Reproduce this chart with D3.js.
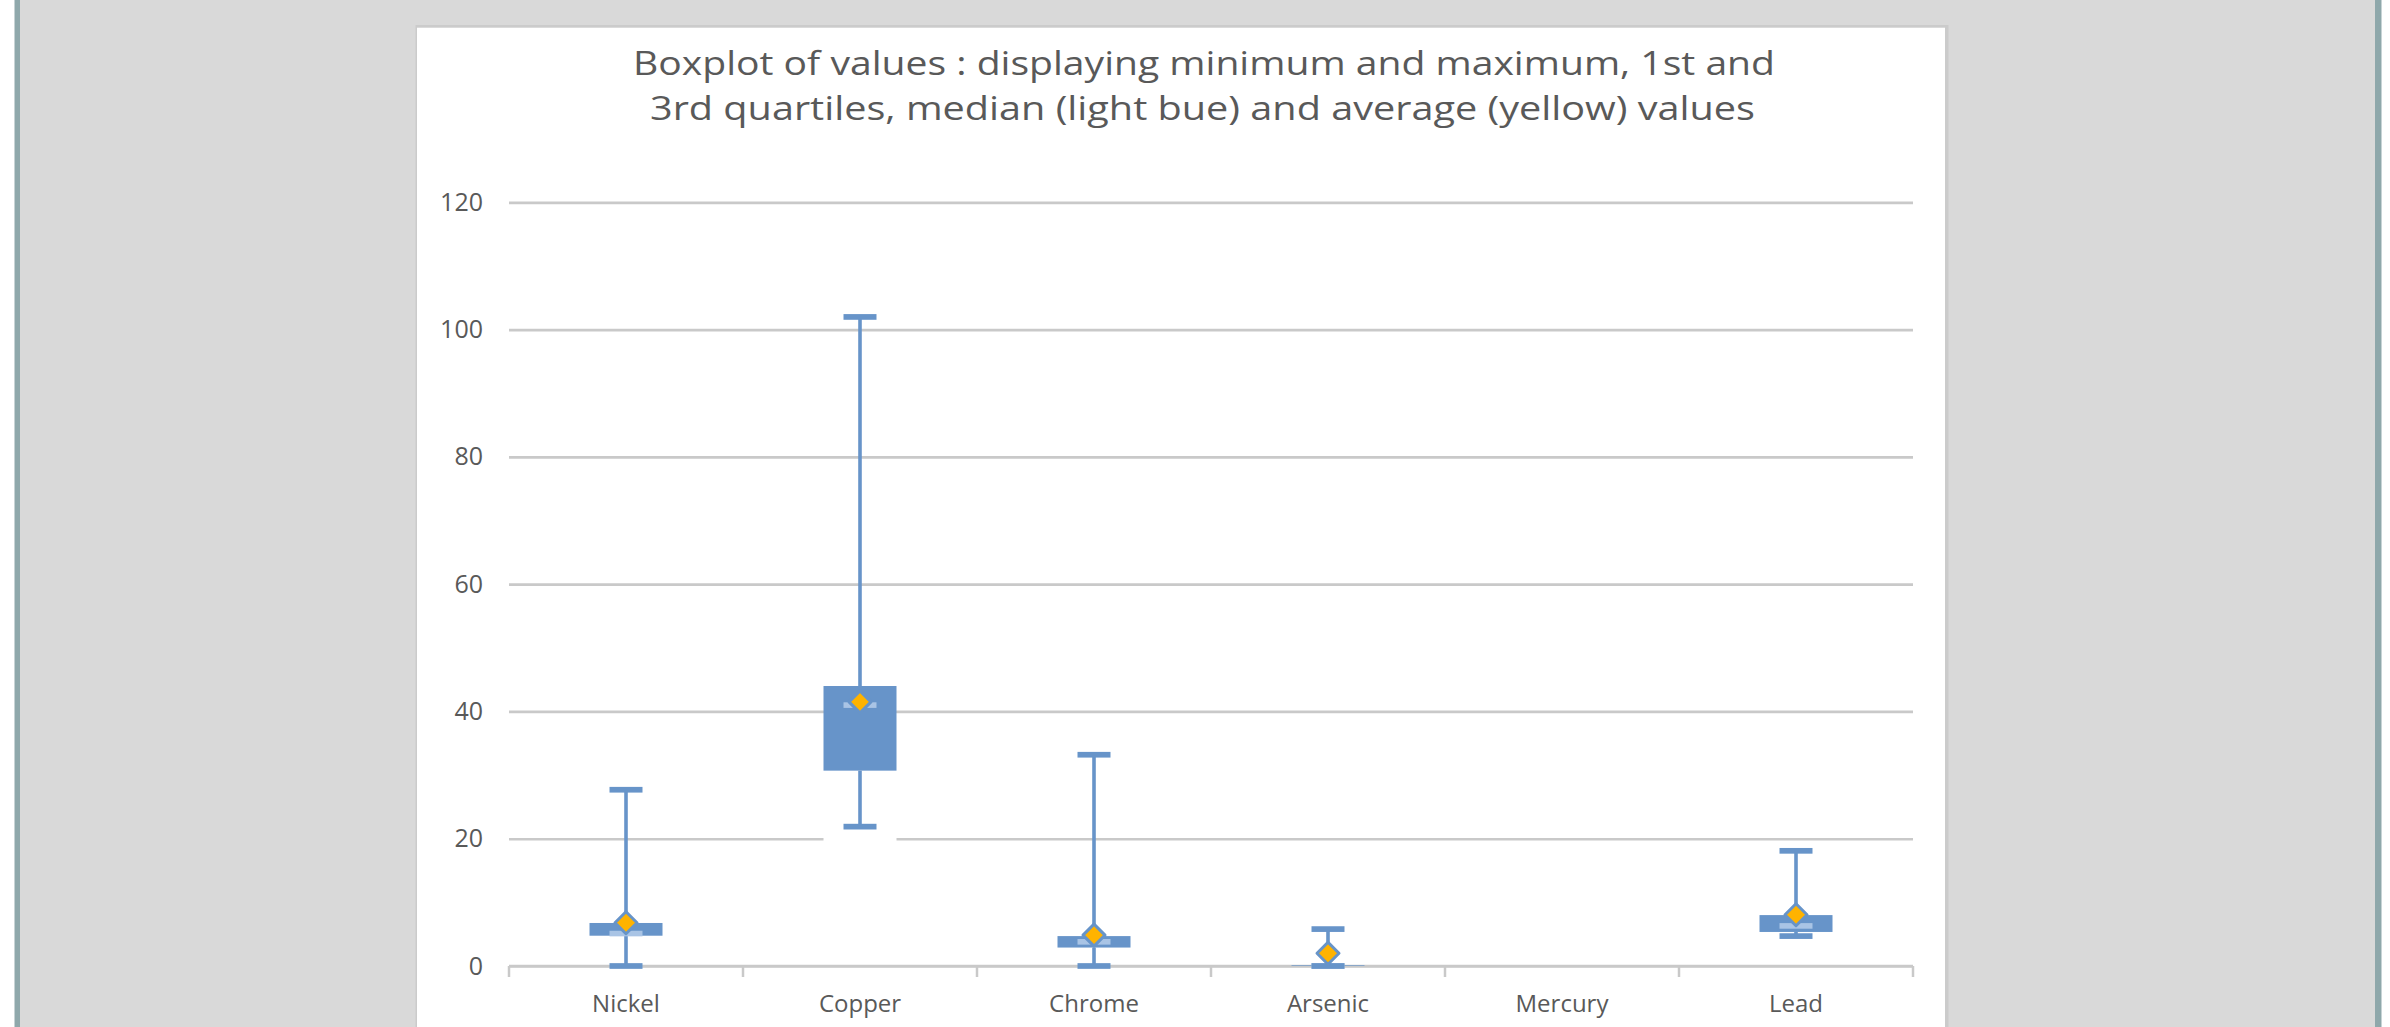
<!DOCTYPE html>
<html><head><meta charset="utf-8">
<script src="https://cdn.jsdelivr.net/npm/d3@7"></script>
<style>html,body{margin:0;padding:0;background:#fff;overflow:hidden}</style>
</head><body><svg id="c" width="2390" height="1027"></svg>
<script>
// ---- data ----
const categories   = ["Nickel", "Copper", "Chrome", "Arsenic", "Mercury", "Lead"];
const minValues    = [0,    21.9, 0,    0,   null, 4.7];
const q1Values     = [4.76, 30.7, 2.9,  0,   null, 5.35];
const medianValues = [5.1,  41.0, 3.8,  0,   null, 6.3];
const q3Values     = [6.76, 44.0, 4.7,  0.1, null, 8.0];
const maxValues    = [27.7, 102,  33.2, 5.8, null, 18.1];
const meanValues   = [6.8,  41.5, 4.85, 2.0, null, 8.05];
const yTicks       = [0, 20, 40, 60, 80, 100, 120];
const titleLines   = ["Boxplot of values : displaying minimum and maximum, 1st and",
                      "3rd quartiles, median (light bue) and average (yellow) values"];

const rows = categories.map((c, i) => ({
  cat: c, min: minValues[i], q1: q1Values[i], med: medianValues[i],
  q3: q3Values[i], max: maxValues[i], mean: meanValues[i]
})).filter(d => d.q1 !== null);

// ---- styles ----
const BLUE = "#6794c9", LIGHT = "#a9c4e5", ORANGE = "#ffb300", GRID = "#c9c9c9", TXT = "#595959";
const FONT = "'Open Sans', sans-serif";

const svg = d3.select("#c");

// page background
svg.append("rect").attr("x", 0).attr("y", 0).attr("width", 2390).attr("height", 1027).attr("fill", "#ffffff");
svg.append("rect").attr("x", 14.5).attr("y", 0).attr("width", 2367).attr("height", 1027).attr("fill", "#8fa8ab");
svg.append("rect").attr("x", 20).attr("y", 0).attr("width", 2355).attr("height", 1027).attr("fill", "#d9d9d9");
// chart panel
svg.append("rect").attr("x", 415.5).attr("y", 25).attr("width", 1533).attr("height", 1100).attr("fill", "#cbcbcb");
svg.append("rect").attr("x", 417).attr("y", 27.7).attr("width", 1528).attr("height", 1100).attr("fill", "#ffffff");

// title
const title = svg.append("g").attr("font-family", FONT).attr("font-size", 32).attr("fill", TXT);
const titleBox = [[633, 1775, 75], [650, 1755, 120]];
title.selectAll("text").data(titleLines).join("text")
  .attr("x", (d, i) => titleBox[i][0])
  .attr("y", (d, i) => titleBox[i][2])
  .attr("textLength", (d, i) => titleBox[i][1] - titleBox[i][0])
  .attr("lengthAdjust", "spacingAndGlyphs")
  .text(d => d);

// scales
const x = d3.scaleBand().domain(categories).range([509, 1913]).paddingInner(0).paddingOuter(0);
const y = d3.scaleLinear().domain([0, 120]).range([966, 202.4]);
const bw = x.bandwidth();
const cx = c => x(c) + bw / 2;
const boxW = bw * 0.312, capW = bw * 0.141;

// y gridlines + labels
const yAxis = d3.axisLeft(y).tickValues(yTicks).tickSize(-(1913 - 509)).tickPadding(26);
const gy = svg.append("g").attr("transform", "translate(509,0)").call(yAxis);
gy.select(".domain").remove();
gy.selectAll(".tick line").attr("stroke", GRID).attr("stroke-width", 2.7);
gy.selectAll(".tick text").attr("fill", TXT).attr("font-family", FONT).attr("font-size", 25);

// invisible (white) base segment of the stacked bar: 0 -> Q1
svg.append("g").selectAll("rect").data(rows).join("rect")
  .attr("x", d => cx(d.cat) - boxW / 2).attr("width", boxW)
  .attr("y", d => y(d.q1)).attr("height", d => y(0) - y(d.q1))
  .attr("fill", "#ffffff");

// x axis line, ticks, labels
const gx = svg.append("g");
gx.append("line").attr("x1", x.range()[0]).attr("x2", x.range()[1])
  .attr("y1", y(0)).attr("y2", y(0)).attr("stroke", GRID).attr("stroke-width", 2.7);
const tickPos = categories.map(c => x(c)).concat([x.range()[1]]);
gx.selectAll("line.tk").data(tickPos).join("line").attr("class", "tk")
  .attr("x1", d => d).attr("x2", d => d).attr("y1", y(0)).attr("y2", y(0) + 11)
  .attr("stroke", GRID).attr("stroke-width", 2.5);
gx.selectAll("text").data(categories).join("text")
  .attr("x", d => cx(d)).attr("y", 1012).attr("text-anchor", "middle")
  .attr("font-family", FONT).attr("font-size", 24).attr("fill", TXT).text(d => d);

// whiskers
const wg = svg.append("g").attr("stroke", BLUE).attr("stroke-width", 3.6);
wg.selectAll("line.lo").data(rows).join("line").attr("class", "lo")
  .attr("x1", d => cx(d.cat)).attr("x2", d => cx(d.cat))
  .attr("y1", d => y(d.q1)).attr("y2", d => y(d.min));
wg.selectAll("line.hi").data(rows).join("line").attr("class", "hi")
  .attr("x1", d => cx(d.cat)).attr("x2", d => cx(d.cat))
  .attr("y1", d => y(d.q3)).attr("y2", d => y(d.max));

// boxes Q1 -> Q3
svg.append("g").selectAll("rect").data(rows).join("rect")
  .attr("x", d => cx(d.cat) - boxW / 2).attr("width", boxW)
  .attr("y", d => y(d.q3)).attr("height", d => y(d.q1) - y(d.q3))
  .attr("fill", BLUE);

// medians (light blue)
svg.append("g").selectAll("rect").data(rows).join("rect")
  .attr("x", d => cx(d.cat) - capW / 2).attr("width", capW)
  .attr("y", d => y(d.med) - 2.8).attr("height", 5.6)
  .attr("fill", LIGHT);

// caps
const capH = 5.7;
const cg = svg.append("g").attr("fill", BLUE);
cg.selectAll("rect.mx").data(rows).join("rect").attr("class", "mx")
  .attr("x", d => cx(d.cat) - capW / 2).attr("width", capW)
  .attr("y", d => y(d.max) - capH / 2).attr("height", capH);
cg.selectAll("rect.mn").data(rows).join("rect").attr("class", "mn")
  .attr("x", d => cx(d.cat) - capW / 2).attr("width", capW)
  .attr("y", d => y(d.min) - capH / 2).attr("height", capH);

// means (diamonds)
const h = 11;
svg.append("g").selectAll("path").data(rows).join("path")
  .attr("d", d => {
    const px = cx(d.cat), py = y(d.mean);
    return `M${px},${py - h}L${px + h},${py}L${px},${py + h}L${px - h},${py}Z`;
  })
  .attr("fill", ORANGE).attr("stroke", BLUE).attr("stroke-width", 3).attr("stroke-linejoin", "round");
</script>
</body></html>
